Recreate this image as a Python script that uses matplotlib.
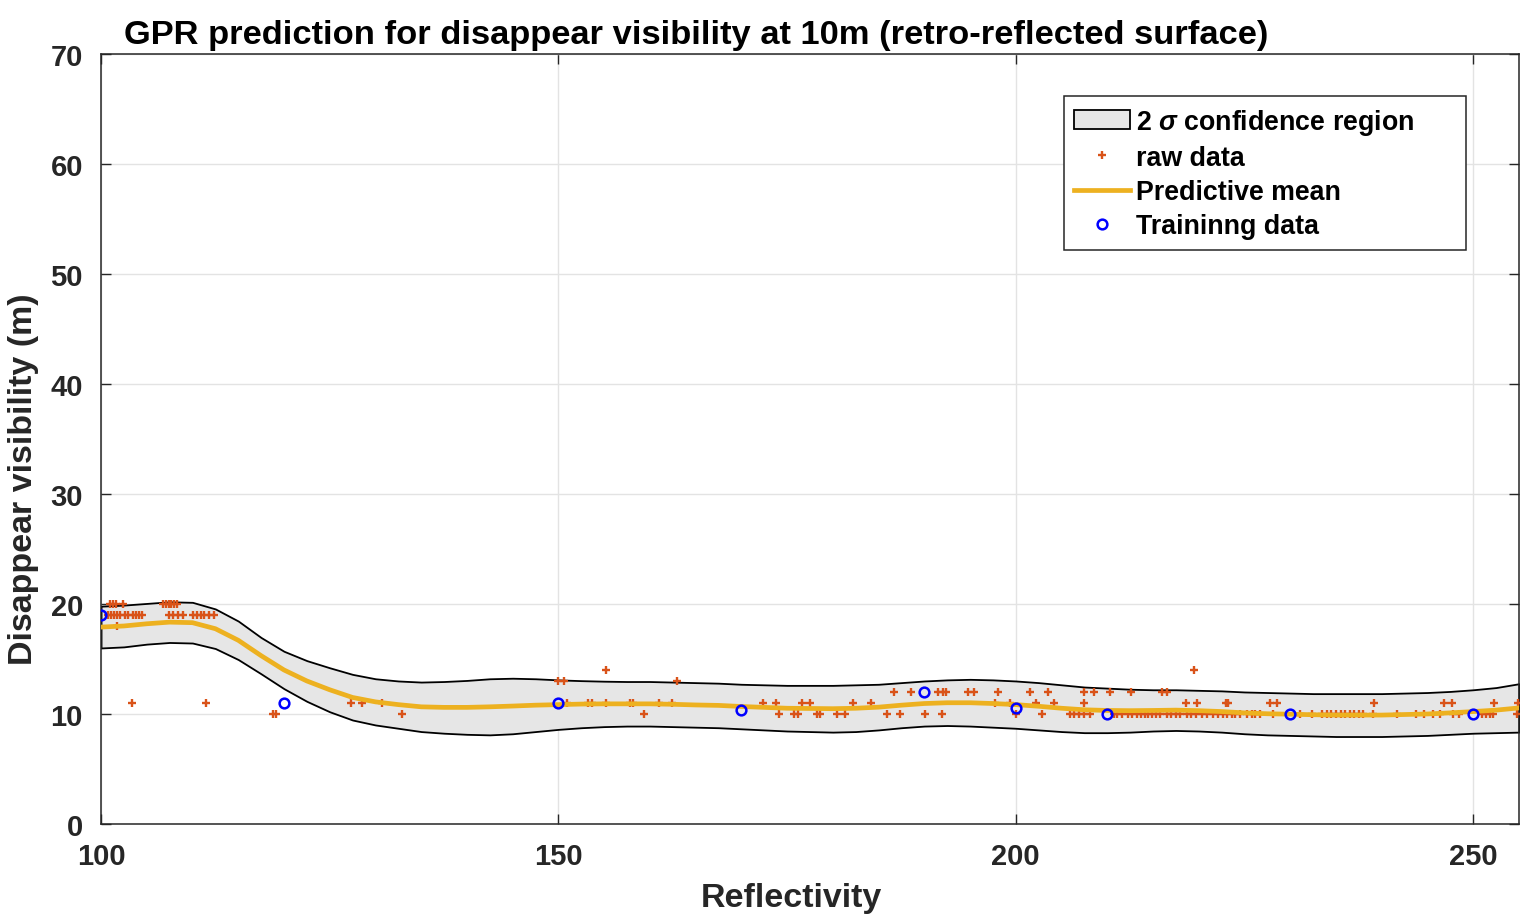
import numpy as np
import matplotlib
matplotlib.use('Agg')
import matplotlib.pyplot as plt

plt.rcParams['font.family'] = ['Liberation Sans', 'DejaVu Sans']
plt.rcParams['font.weight'] = 'bold'
plt.rcParams['mathtext.fontset'] = 'custom'
plt.rcParams['mathtext.it'] = 'Liberation Sans:italic'
plt.rcParams['mathtext.rm'] = 'Liberation Sans:bold'

# grid of reflectivity values used for the prediction curves
x_pred = [100, 102.5, 105, 107.5, 110, 112.5, 115, 117.5, 120, 122.5,
          125, 127.5, 130, 132.5, 135, 137.5, 140, 142.5, 145, 147.5,
          150, 152.5, 155, 157.5, 160, 162.5, 165, 167.5, 170, 172.5,
          175, 177.5, 180, 182.5, 185, 187.5, 190, 192.5, 195, 197.5,
          200, 202.5, 205, 207.5, 210, 212.5, 215, 217.5, 220, 222.5,
          225, 227.5, 230, 232.5, 235, 237.5, 240, 242.5, 245, 247.5,
          250, 252.5, 255]

mean_pred = [17.9, 18.0, 18.2, 18.35, 18.3, 17.75, 16.7, 15.3, 14.0, 13.0,
             12.2, 11.5, 11.1, 10.85, 10.65, 10.6, 10.6, 10.65, 10.72, 10.8,
             10.85, 10.9, 10.92, 10.92, 10.92, 10.88, 10.82, 10.78, 10.68, 10.6,
             10.52, 10.5, 10.48, 10.52, 10.62, 10.8, 10.95, 11.02, 11.02, 10.95,
             10.85, 10.7, 10.52, 10.38, 10.32, 10.3, 10.32, 10.35, 10.3, 10.22,
             10.1, 10.02, 9.98, 9.93, 9.9, 9.9, 9.9, 9.95, 10.0, 10.1,
             10.22, 10.35, 10.55]

upper_pred = [19.8, 19.9, 20.05, 20.2, 20.15, 19.55, 18.45, 16.95, 15.7, 14.85,
              14.2, 13.6, 13.2, 13.0, 12.9, 12.95, 13.05, 13.2, 13.25, 13.2,
              13.1, 13.03, 12.98, 12.95, 12.95, 12.9, 12.85, 12.8, 12.7, 12.65,
              12.6, 12.6, 12.6, 12.65, 12.7, 12.85, 13.0, 13.1, 13.15, 13.1,
              13.0, 12.85, 12.65, 12.45, 12.35, 12.25, 12.2, 12.2, 12.15, 12.1,
              12.0, 11.95, 11.9, 11.85, 11.85, 11.85, 11.85, 11.9, 11.95, 12.05,
              12.2, 12.4, 12.75]

lower_pred = [16.0, 16.1, 16.35, 16.5, 16.45, 15.95, 14.95, 13.65, 12.3, 11.15,
              10.2, 9.45, 9.0, 8.7, 8.4, 8.25, 8.15, 8.1, 8.2, 8.4,
              8.6, 8.75, 8.85, 8.9, 8.9, 8.85, 8.8, 8.75, 8.65, 8.55,
              8.45, 8.4, 8.35, 8.4, 8.55, 8.75, 8.9, 8.95, 8.9, 8.8,
              8.7, 8.55, 8.4, 8.3, 8.3, 8.35, 8.45, 8.5, 8.45, 8.35,
              8.2, 8.1, 8.05, 8.0, 7.95, 7.95, 7.95, 8.0, 8.05, 8.15,
              8.25, 8.3, 8.35]

# training points
x_train = [100, 120, 150, 170, 190, 200, 210, 230, 250]
y_train = [19, 11, 11, 10.4, 12, 10.5, 10, 10, 10]

# raw measurements, grouped by visibility value
raw_20 = [101.0, 101.3, 101.6, 102.4, 106.8, 107.1, 107.4, 107.7, 108.0, 108.3]
raw_19 = [100.8, 101.1, 101.4, 101.7, 102.1, 102.6, 103.0, 103.5, 103.8, 104.1,
          104.5, 107.4, 107.9, 108.4, 109.0, 110.1, 110.5, 110.9, 111.3, 111.8, 112.3]
raw_18 = [101.7]
raw_14 = [155.2, 219.5]
raw_13 = [150.0, 150.6, 163.0]
raw_12 = [186.7, 188.5, 191.5, 192.0, 192.4, 194.8, 195.4, 198.1, 201.6, 203.5,
          207.4, 208.6, 210.3, 212.6, 216.0, 216.5]
raw_11 = [103.4, 111.5, 127.3, 128.5, 130.7, 150.9, 153.2, 153.7, 155.2, 157.8,
          158.2, 161.0, 162.4, 172.4, 173.8, 176.6, 177.5, 182.2, 184.2, 197.7,
          199.4, 202.2, 204.2, 207.4, 218.6, 219.8, 223.0, 223.2, 227.8, 228.6,
          239.2, 246.8, 247.7, 252.3, 254.9]
raw_10 = [118.8, 119.1, 132.9, 159.3, 174.1, 175.7, 176.2, 178.3, 178.6, 180.4,
          181.3, 185.9, 187.3, 190.1, 191.9, 200.0, 202.9, 205.9, 206.4, 206.9,
          207.5, 208.1, 210.7, 211.1, 211.6, 212.3, 212.7, 213.3, 213.7, 214.1,
          214.5, 214.9, 215.3, 215.8, 216.5, 217.0, 217.5, 218.0, 218.7, 219.2,
          219.7, 220.3, 220.9, 221.6, 222.1, 222.6, 223.1, 223.6, 224.0, 224.5,
          225.3, 225.8, 226.2, 226.7, 228.1, 231.1, 232.4, 233.5, 234.0, 234.5,
          235.0, 235.5, 236.0, 236.5, 237.0, 237.5, 238.0, 239.1, 241.7, 243.7,
          244.6, 245.6, 246.4, 247.8, 248.4, 251.0, 251.4, 251.8, 252.2, 254.8]

raw_x = raw_20 + raw_19 + raw_18 + raw_14 + raw_13 + raw_12 + raw_11 + raw_10
raw_y = ([20] * len(raw_20) + [19] * len(raw_19) + [18] * len(raw_18) +
         [14] * len(raw_14) + [13] * len(raw_13) + [12] * len(raw_12) +
         [11] * len(raw_11) + [10] * len(raw_10))

dark = '#262626'

fig = plt.figure(figsize=(15.38, 9.2), dpi=100)
ax = fig.add_axes([0.0657, 0.1033, 0.9219, 0.8369])

ax.fill_between(x_pred, lower_pred, upper_pred, facecolor='#e6e6e6',
                edgecolor='black', linewidth=1.3,
                label=r'2 $\sigma$ confidence region', zorder=2)
ax.plot(raw_x, raw_y, '+', color='#D95319', markersize=6, markeredgewidth=1.7,
        linestyle='none', label='raw data', zorder=3)
ax.plot(x_pred, mean_pred, '-', color='#EDB120', linewidth=3.4,
        label='Predictive mean', zorder=4)
ax.plot(x_train, y_train, 'o', markerfacecolor='none', markeredgecolor='#0000FF',
        markersize=7, markeredgewidth=1.8, linestyle='none',
        label='Traininng data', zorder=5)

ax.set_xlim(100, 255)
ax.set_ylim(0, 70)
ax.set_xticks([100, 150, 200, 250])
ax.set_yticks(range(0, 71, 10))
ax.tick_params(direction='in', top=True, right=True, length=7, width=1,
               colors=dark, labelsize=21)
ax.tick_params(axis='x', pad=13)
ax.tick_params(axis='y', pad=13)
for s in ax.spines.values():
    s.set_color(dark)
    s.set_linewidth(1.1)
ax.grid(True, color='#e3e3e3', linewidth=1)
ax.set_axisbelow(True)

ax.set_xlabel('Reflectivity', fontsize=24.5, fontweight='bold', color=dark,
              labelpad=10)
ax.xaxis.set_label_coords(0.487, -0.075)
ax.set_ylabel('Disappear visibility (m)', fontsize=24.5, fontweight='bold',
              color=dark, labelpad=8)
ax.yaxis.set_label_coords(-0.044, 0.449)
ax.set_title('GPR prediction for disappear visibility at 10m (retro-reflected surface)',
             fontsize=24.8, fontweight='bold', color='black', loc='left',
             x=0.016, pad=8)

leg = ax.legend(loc='upper left', bbox_to_anchor=(0.679, 0.751, 0.284, 0.194),
                mode='expand', fontsize=19.3,
                frameon=True, fancybox=False, edgecolor=dark, framealpha=1,
                handlelength=2.1, handletextpad=0.22, labelspacing=0.31,
                borderpad=0.38, borderaxespad=0)
leg.get_frame().set_linewidth(1.1)

plt.savefig('out.png', dpi=100)
